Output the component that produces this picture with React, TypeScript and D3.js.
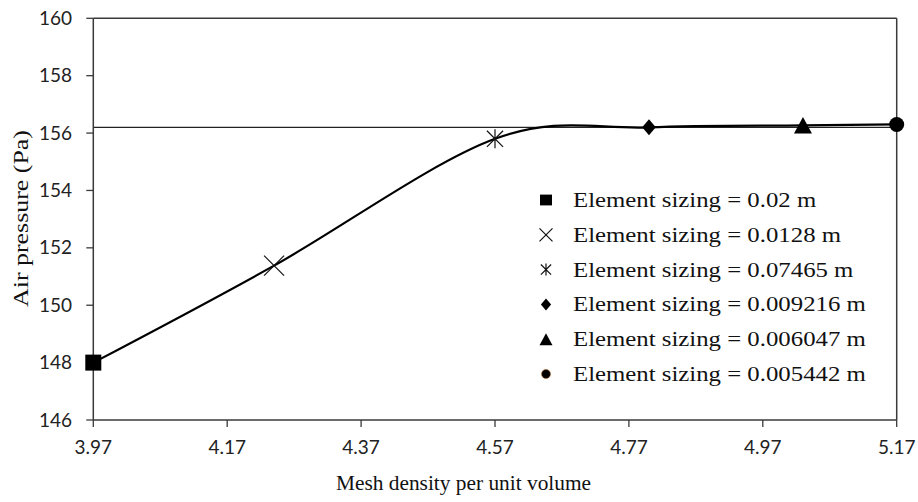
import React from "react";
import * as d3 from "d3";

// Mesh-independence study: air pressure against mesh density
const meshDensity = [3.97, 4.24, 4.57, 4.8, 5.03, 5.17];
const airPressure = [148.0, 151.38, 155.8, 156.2, 156.27, 156.3];
const elementSizing = ["0.02", "0.0128", "0.07465", "0.009216", "0.006047", "0.005442"];
const markerShapes = ["square", "cross", "asterisk", "diamond", "triangle", "circle"];
const referencePressure = 156.2;
const xTickValues = [3.97, 4.17, 4.37, 4.57, 4.77, 4.97, 5.17];
const yTickValues = [146, 148, 150, 152, 154, 156, 158, 160];

const W = 918;
const H = 502;
const plot = { left: 93.3, right: 896.7, top: 18.3, bottom: 420 };

const x = d3.scaleLinear().domain([3.97, 5.17]).range([plot.left, plot.right]);
const y = d3.scaleLinear().domain([146, 160]).range([plot.bottom, plot.top]);

type MarkerProps = { shape: string; cx: number; cy: number; s: number; legend?: boolean };

function Marker({ shape, cx, cy, s, legend }: MarkerProps) {
  const h = s / 2;
  switch (shape) {
    case "square":
      return <rect x={cx - h} y={cy - h * (legend ? 0.9 : 1)} width={s} height={s * (legend ? 0.9 : 1)} fill="#000" />;
    case "cross":
      return (
        <path
          d={`M${cx - h},${cy - h}L${cx + h},${cy + h}M${cx - h},${cy + h}L${cx + h},${cy - h}`}
          stroke="#111"
          strokeWidth={1.2}
          fill="none"
        />
      );
    case "asterisk": {
      const dx = h * 0.85;
      return (
        <path
          d={`M${cx - dx},${cy - h * 0.85}L${cx + dx},${cy + h * 0.85}M${cx - dx},${cy + h * 0.85}L${cx + dx},${cy - h * 0.85}M${cx},${cy - h}L${cx},${cy + h}`}
          stroke="#111"
          strokeWidth={1.2}
          fill="none"
        />
      );
    }
    case "diamond": {
      const hw = h * 0.85;
      return <path d={`M${cx},${cy - h}L${cx + hw},${cy}L${cx},${cy + h}L${cx - hw},${cy}Z`} fill="#000" />;
    }
    case "triangle": {
      const th = s * 0.92;
      return (
        <path
          d={`M${cx},${cy - th * 0.5}L${cx + h},${cy + th * 0.5}L${cx - h},${cy + th * 0.5}Z`}
          fill="#000"
        />
      );
    }
    case "circle":
      return (
        <circle
          cx={cx}
          cy={cy}
          r={h}
          fill="#000"
          stroke={legend ? "#b86a22" : "#000"}
          strokeWidth={legend ? 0.8 : 0}
          strokeOpacity={0.7}
        />
      );
    default:
      return null;
  }
}

const plotMarkerSize: Record<string, number> = {
  square: 16,
  cross: 20,
  asterisk: 19,
  diamond: 16,
  triangle: 18,
  circle: 15,
};

const legendMarkerSize: Record<string, number> = {
  square: 12,
  cross: 13,
  asterisk: 12,
  diamond: 12,
  triangle: 13,
  circle: 9,
};

export default function App() {
  const points: [number, number][] = meshDensity.map((d, i) => [x(d), y(airPressure[i])]);
  const curve = d3.line().curve(d3.curveCardinal.tension(0))(points) ?? "";

  const tickFont = "Lato, 'Open Sans', sans-serif";
  const serif = "'Liberation Serif', 'Times New Roman', serif";
  const axisColor = "#3a3a3a";

  const legendX = 546;
  const legendTextX = 573;
  const legendY0 = 200;
  const legendStep = 34.8;

  return (
    <svg
      width={W}
      height={H}
      style={{ position: "absolute", left: 0, top: 0, background: "#fff" }}
    >
      <rect x={0} y={0} width={W} height={H} fill="#fff" />

      {/* frame */}
      <line x1={plot.left} x2={plot.right} y1={plot.top} y2={plot.top} stroke={axisColor} strokeWidth={1.5} />
      <line x1={plot.right} x2={plot.right} y1={plot.top} y2={plot.bottom} stroke={axisColor} strokeWidth={1.5} />

      {/* converged reference pressure */}
      <line
        x1={plot.left}
        x2={plot.right}
        y1={y(referencePressure)}
        y2={y(referencePressure)}
        stroke="#222"
        strokeWidth={1.4}
      />

      {/* axes */}
      <line x1={plot.left} x2={plot.left} y1={plot.top} y2={plot.bottom} stroke={axisColor} strokeWidth={1.5} />
      <line x1={plot.left} x2={plot.right} y1={plot.bottom} y2={plot.bottom} stroke={axisColor} strokeWidth={1.5} />

      {yTickValues.map((v) => (
        <g key={`y${v}`}>
          <line x1={plot.left - 7} x2={plot.left} y1={y(v)} y2={y(v)} stroke={axisColor} strokeWidth={1.3} />
          <text
            x={72}
            y={y(v)}
            dy="0.35em"
            textAnchor="end"
            fontFamily={tickFont}
            fontSize={19}
            fill="#222"
          >
            {v}
          </text>
        </g>
      ))}

      {xTickValues.map((v) => (
        <g key={`x${v}`}>
          <line x1={x(v)} x2={x(v)} y1={plot.bottom} y2={plot.bottom + 7} stroke={axisColor} strokeWidth={1.3} />
          <text
            x={x(v)}
            y={454}
            textAnchor="middle"
            fontFamily={tickFont}
            fontSize={19}
            fill="#222"
          >
            {v.toFixed(2)}
          </text>
        </g>
      ))}

      {/* axis titles */}
      <text
        x={463.5}
        y={490}
        textAnchor="middle"
        fontFamily={serif}
        fontSize={20}
        textLength={255}
        lengthAdjust="spacingAndGlyphs"
        fill="#111"
      >
        Mesh density per unit volume
      </text>
      <text
        transform={`translate(28, 218.5) rotate(-90)`}
        textAnchor="middle"
        fontFamily={serif}
        fontSize={22}
        textLength={177}
        lengthAdjust="spacingAndGlyphs"
        fill="#111"
      >
        Air pressure (Pa)
      </text>

      {/* smoothed pressure curve */}
      <path d={curve} fill="none" stroke="#000" strokeWidth={2.2} />

      {points.map(([px, py], i) => (
        <Marker key={`m${i}`} shape={markerShapes[i]} cx={px} cy={py} s={plotMarkerSize[markerShapes[i]]} />
      ))}

      {/* legend */}
      {elementSizing.map((label, i) => {
        const cy = legendY0 + i * legendStep;
        return (
          <g key={`l${i}`}>
            <Marker shape={markerShapes[i]} cx={legendX} cy={cy} s={legendMarkerSize[markerShapes[i]]} legend />
            <text
              transform={`translate(${legendTextX}, ${cy + 7}) scale(1.24, 1)`}
              fontFamily={serif}
              fontSize={20}
              fill="#111"
            >
              {`Element sizing = ${label} m`}
            </text>
          </g>
        );
      })}
    </svg>
  );
}
